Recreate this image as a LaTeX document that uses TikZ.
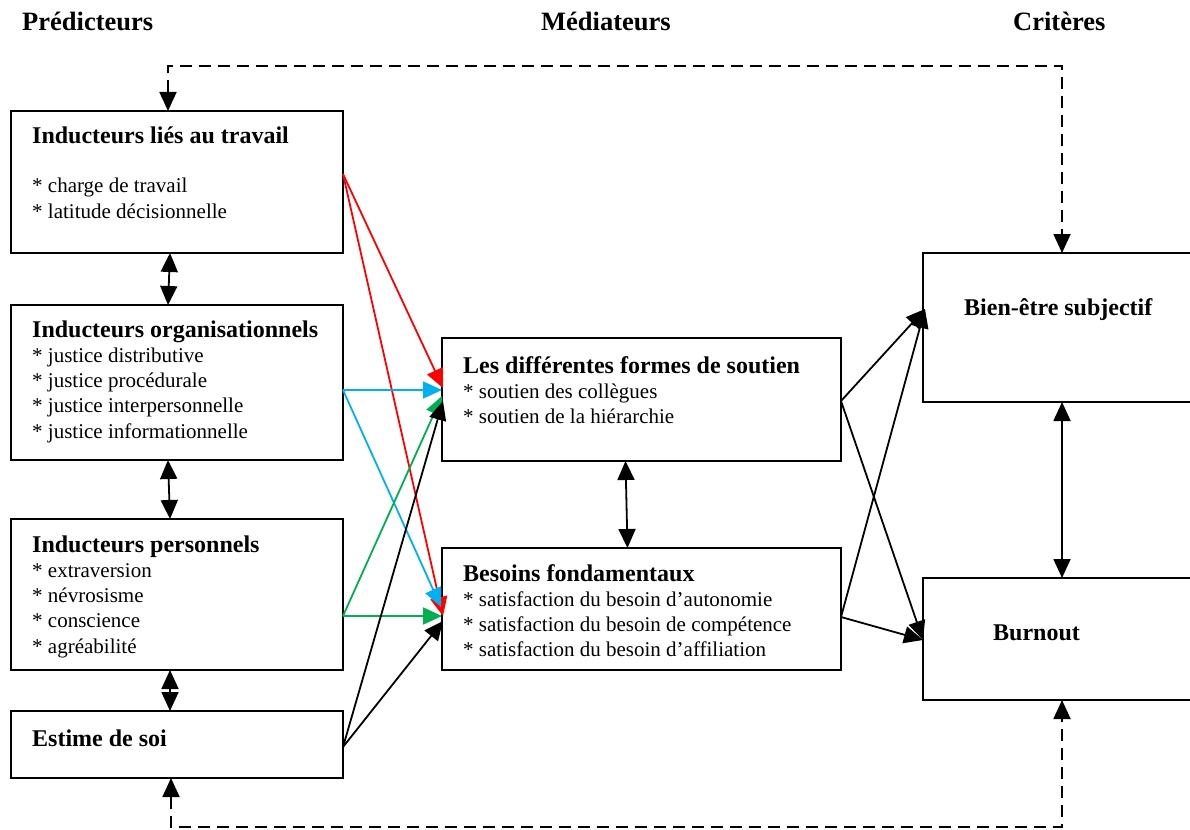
\documentclass[tikz,border=0pt]{standalone}
\usepackage{fontspec}
\setmainfont{Liberation Serif}
\usetikzlibrary{arrows.meta}
\definecolor{lnkblue}{HTML}{00B0F0}
\definecolor{lnkgreen}{HTML}{00B050}
\newcommand{\ttl}[1]{{\fontsize{24}{25}\selectfont\bfseries #1}}
\newcommand{\lst}[1]{\begin{tabular}[t]{@{}l@{}}#1\end{tabular}}

\begin{document}
\begin{tikzpicture}[x=1pt,y=-1pt,
  box/.style={draw, line width=2.4pt, anchor=north west, inner sep=0pt, outer sep=0pt},
  txt/.style={anchor=base west, inner sep=0pt, font=\fontsize{21}{25.3}\selectfont},
  hdr/.style={anchor=base west, inner sep=0pt, font=\fontsize{26.5}{28}\selectfont\bfseries},
  lnk/.style={line width=1.8pt, -{Triangle[width=17pt,length=19pt]}},
  dbl/.style={line width=1.8pt, {Triangle[width=17pt,length=19pt]}-{Triangle[width=17pt,length=19pt]}},
  fbk/.style={dbl, dash pattern=on 12pt off 7pt}]
\useasboundingbox (0,0) rectangle (1190,829);

\node[hdr] (h-pred) at (22,31) {Prédicteurs};
\node[hdr] (h-med) at (541,31) {Médiateurs};
\node[hdr] (h-crit) at (1013,31) {Critères};

\node[box, minimum width=332, minimum height=142] (trav) at (11,111) {};
\node[box, minimum width=332, minimum height=155] (orga) at (11,305) {};
\node[box, minimum width=332, minimum height=151] (pers) at (11,519) {};
\node[box, minimum width=332, minimum height=67] (estm) at (11,711) {};
\node[box, minimum width=399, minimum height=123] (sout) at (442,338) {};
\node[box, minimum width=399, minimum height=122] (besn) at (442,548) {};
\node[box, minimum width=280, minimum height=149] (bien) at (923,253) {};
\node[box, minimum width=280, minimum height=122] (burn) at (923,578) {};

\node[txt] (t-trav) at (32,144) {\lst{\ttl{Inducteurs liés au travail}\\[23.7pt]
  {*} charge de travail\\ {*} latitude décisionnelle}};
\node[txt] (t-orga) at (32,337) {\lst{\ttl{Inducteurs organisationnels}\\
  {*} justice distributive\\ {*} justice procédurale\\ {*} justice interpersonnelle\\
  {*} justice informationnelle}};
\node[txt] (t-pers) at (32,552) {\lst{\ttl{Inducteurs personnels}\\
  {*} extraversion\\ {*} névrosisme\\ {*} conscience\\ {*} agréabilité}};
\node[txt] (t-estm) at (32,746) {\ttl{Estime de soi}};
\node[txt] (t-sout) at (463,373) {\lst{\ttl{Les différentes formes de soutien}\\
  {*} soutien des collègues\\ {*} soutien de la hiérarchie}};
\node[txt] (t-besn) at (463,581) {\lst{\ttl{Besoins fondamentaux}\\
  {*} satisfaction du besoin d’autonomie\\ {*} satisfaction du besoin de compétence\\
  {*} satisfaction du besoin d’affiliation}};
\node[txt] (t-bien) at (964,315) {\ttl{Bien-être subjectif}};
\node[txt] (t-burn) at (993,640) {\ttl{Burnout}};

\coordinate (trav-o) at (343,174);
\coordinate (orga-o) at (343,390);
\coordinate (pers-o) at (343,616);
\coordinate (estm-o) at (343,747);
\coordinate (sout-o) at (841,401);
\coordinate (besn-o) at (841,617);
\coordinate (bien-i) at (925,309);
\coordinate (burn-i) at (923,640);
\coordinate (fb-top) at (600,66);
\coordinate (fb-bot) at (600,827);

\draw[lnk, red] (trav-o) -- (443,388);
\draw[lnk, red] (trav-o) -- (443,616);
\draw[lnk, lnkblue] (orga-o) -- (442,390);
\draw[lnk, lnkblue] (orga-o) -- (441,607);
\draw[lnk, lnkgreen] (pers-o) -- (442,396);
\draw[lnk, lnkgreen] (pers-o) -- (442,616);
\draw[lnk] (estm-o) -- (443,401);
\draw[lnk] (estm-o) -- (443,621);

\draw[lnk] (sout-o) -- (bien-i);
\draw[lnk] (sout-o) -- (burn-i);
\draw[lnk] (besn-o) -- (bien-i);
\draw[lnk] (besn-o) -- (burn-i);

\draw[dbl] ([xshift=-7pt]trav.south) -- ([xshift=-9pt]orga.north);
\draw[dbl] ([xshift=-9pt]orga.south) -- ([xshift=-7pt]pers.north);
\draw[dbl] ([xshift=-7pt]pers.south) -- ([xshift=-7pt]estm.north);
\draw[dbl] ([xshift=-16pt]sout.south) -- ([xshift=-14pt]besn.north);
\draw[dbl] ([xshift=-1pt]bien.south) -- ([xshift=-1pt]burn.north);

\draw[fbk] ([xshift=-9pt]trav.north) |- (fb-top) -| ([xshift=-1pt]bien.north);
\draw[fbk] ([xshift=-6pt]estm.south) |- (fb-bot) -| ([xshift=-1pt]burn.south);
\end{tikzpicture}
\end{document}
